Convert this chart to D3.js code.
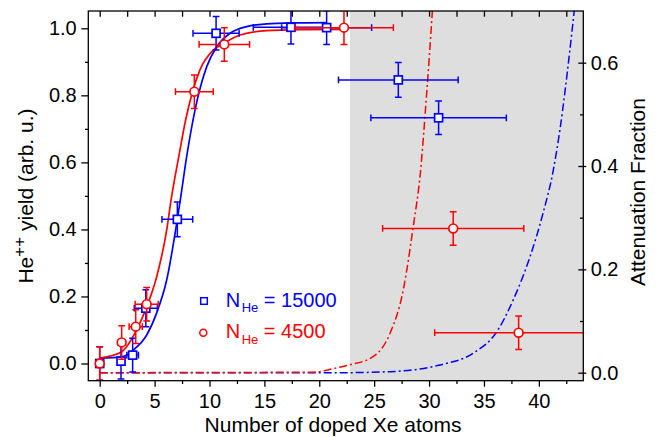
<!DOCTYPE html>
<html>
<head>
<meta charset="utf-8">
<script src="https://cdn.jsdelivr.net/npm/d3@7"></script>
<style>
  body { margin: 0; background: #fff; }
  svg { display: block; }
</style>
</head>
<body>
<script>
// tick values
var xMajor = [0, 5, 10, 15, 20, 25, 30, 35, 40];
var xMinor = [2.5, 7.5, 12.5, 17.5, 22.5, 27.5, 32.5, 37.5, 42.5];
var yLeftMajor = [0, 0.2, 0.4, 0.6, 0.8, 1.0];
var yLeftMinor = [0.1, 0.3, 0.5, 0.7, 0.9];
var yRightMajor = [0, 0.2, 0.4, 0.6];
var yRightMinor = [0.1, 0.3, 0.5];

// N_He = 15000 (blue squares)
var blueX    = [0, 1.94, 3.0, 4.2, 7.07, 10.6, 17.42, 20.67, 27.2, 30.87];
var blueY    = [0, 0.007, 0.025, 0.165, 0.43, 0.985, 1.003, 1.002, 0.846, 0.733];
var blueXErr = [0, 0, 0.53, 1.05, 1.4, 2.1, 3.43, 4.1, 5.45, 6.17];
var blueYErr = [0.05, 0.053, 0.05, 0.055, 0.052, 0.05, 0.05, 0.05, 0.052, 0.05];

// N_He = 4500 (red circles)
var redX    = [0, 2.0, 3.28, 4.28, 8.62, 11.35, 22.25, 32.2, 38.16];
var redY    = [0, 0.063, 0.11, 0.177, 0.811, 0.952, 1.002, 0.403, 0.092];
var redXErr = [0, 0.3, 0.6, 1.05, 1.72, 2.3, 4.5, 6.43, 7.65];
var redYErr = [0.05, 0.05, 0.05, 0.05, 0.05, 0.05, 0.05, 0.05, 0.05];

// fitted yield curves (left axis)
var blueFitX = [0, 2, 3.06, 4.28, 5.19, 6.1, 7.07, 7.35, 7.92, 8.68, 9.74, 10.66, 11.87, 13.39, 15.2, 17.5, 20.6];
var blueFitY = [0.016, 0.02, 0.04, 0.085, 0.151, 0.249, 0.43, 0.49, 0.617, 0.756, 0.885, 0.945, 0.985, 1.005, 1.013, 1.016, 1.017];
var redFitX = [0, 2, 3.28, 4.28, 5.19, 6.1, 6.5, 7.2, 7.85, 8.45, 9.13, 10.35, 11.35, 12.78, 15.2, 18.5, 22.4];
var redFitY = [0.016, 0.035, 0.095, 0.169, 0.259, 0.398, 0.488, 0.617, 0.73, 0.81, 0.876, 0.935, 0.956, 0.98, 0.993, 0.996, 0.997];

// attenuation fraction curves (right axis)
var redAttX = [0, 19.4, 21.3, 22.5, 24.9, 26.44, 27.65, 28.56, 29.2, 29.78, 30.3, 30.5];
var redAttY = [0, 0.001, 0.008, 0.014, 0.031, 0.076, 0.16, 0.283, 0.385, 0.54, 0.70, 0.77];
var blueAttX = [0, 21.9, 26.44, 31.0, 34.0, 36.16, 37.67, 39.19, 40.4, 41.3, 41.92, 42.83, 43.22, 43.5];
var blueAttY = [0, 0, 0.002, 0.015, 0.0375, 0.079, 0.141, 0.224, 0.31, 0.39, 0.47, 0.625, 0.70, 0.76];

var shadeStart = 22.8;

var width = 659, height = 437;
var padL = 88.3, padR = 583.3, padT = 11, padB = 380.7;
var font = "'Liberation Sans', Arial, Helvetica, sans-serif";
var BLUE = "#0000ff", RED = "#ff0000";

var svg = d3.select("body").append("svg")
    .attr("width", width)
    .attr("height", height);

var x = d3.scaleLinear().domain([-1.04, 44.05]).range([padL, padR]);
var yL = d3.scaleLinear().domain([-0.0513, 1.0516]).range([padB, padT]);
var yR = d3.scaleLinear().domain([-0.0155, 0.700]).range([padB, padT]);

svg.append("clipPath").attr("id", "plotclip")
  .append("rect")
    .attr("x", padL).attr("y", padT)
    .attr("width", padR - padL).attr("height", padB - padT);

var plot = svg.append("g").attr("clip-path", "url(#plotclip)");

// grey region
plot.append("rect")
    .attr("x", x(shadeStart)).attr("y", padT)
    .attr("width", padR - x(shadeStart)).attr("height", padB - padT)
    .attr("fill", "#dedede");

function zip(xs, ys) {
    return xs.map(function(v, i) { return [v, ys[i]]; });
}

var lineL = d3.line().x(function(d) { return x(d[0]); }).y(function(d) { return yL(d[1]); }).curve(d3.curveMonotoneX);
var lineR = d3.line().x(function(d) { return x(d[0]); }).y(function(d) { return yR(d[1]); }).curve(d3.curveMonotoneX);

// dash-dot attenuation curves
plot.append("path").attr("d", lineR(zip(blueAttX, blueAttY)))
    .attr("fill", "none").attr("stroke", BLUE).attr("stroke-width", 1.5)
    .attr("stroke-dasharray", "8,3,2,3");
plot.append("path").attr("d", lineR(zip(redAttX, redAttY)))
    .attr("fill", "none").attr("stroke", RED).attr("stroke-width", 1.5)
    .attr("stroke-dasharray", "8,3,2,3");

// fit curves
plot.append("path").attr("d", lineL(zip(blueFitX, blueFitY)))
    .attr("fill", "none").attr("stroke", BLUE).attr("stroke-width", 1.7);
plot.append("path").attr("d", lineL(zip(redFitX, redFitY)))
    .attr("fill", "none").attr("stroke", RED).attr("stroke-width", 1.7);

function errorBars(xs, ys, xe, ye, color) {
    var g = plot.append("g").attr("stroke", color).attr("stroke-width", 1.5).attr("fill", "none");
    var cap = 3.4;
    xs.forEach(function(v, i) {
        var cx = x(v), cy = yL(ys[i]);
        if (xe[i] > 0) {
            var x1 = x(v - xe[i]), x2 = x(v + xe[i]);
            g.append("line").attr("x1", x1).attr("x2", x2).attr("y1", cy).attr("y2", cy);
            g.append("line").attr("x1", x1).attr("x2", x1).attr("y1", cy - cap).attr("y2", cy + cap);
            g.append("line").attr("x1", x2).attr("x2", x2).attr("y1", cy - cap).attr("y2", cy + cap);
        }
        if (ye[i] > 0) {
            var y1 = yL(ys[i] - ye[i]), y2 = yL(ys[i] + ye[i]);
            g.append("line").attr("x1", cx).attr("x2", cx).attr("y1", y1).attr("y2", y2);
            g.append("line").attr("x1", cx - cap).attr("x2", cx + cap).attr("y1", y1).attr("y2", y1);
            g.append("line").attr("x1", cx - cap).attr("x2", cx + cap).attr("y1", y2).attr("y2", y2);
        }
    });
}

errorBars(blueX, blueY, blueXErr, blueYErr, BLUE);
plot.append("g").selectAll("rect").data(zip(blueX, blueY)).enter().append("rect")
    .attr("x", function(d) { return x(d[0]) - 4; })
    .attr("y", function(d) { return yL(d[1]) - 4; })
    .attr("width", 8).attr("height", 8)
    .attr("fill", "#fff").attr("stroke", BLUE).attr("stroke-width", 1.7);

errorBars(redX, redY, redXErr, redYErr, RED);
plot.append("g").selectAll("circle").data(zip(redX, redY)).enter().append("circle")
    .attr("cx", function(d) { return x(d[0]); })
    .attr("cy", function(d) { return yL(d[1]); })
    .attr("r", 4.4)
    .attr("fill", "#fff").attr("stroke", RED).attr("stroke-width", 1.7);

// axes
function styleAxis(g) {
    g.select(".domain").remove();
    g.attr("font-size", 20).attr("font-family", font);
    g.selectAll("line").attr("stroke", "#000").attr("stroke-width", 1.3);
    g.selectAll("text").attr("fill", "#000");
}

svg.append("g").attr("transform", "translate(0," + padB + ")")
    .call(d3.axisBottom(x).tickValues(xMajor).tickSize(6).tickPadding(7.4).tickFormat(d3.format("d")))
    .call(styleAxis);
svg.append("g").attr("transform", "translate(0," + padB + ")")
    .call(d3.axisBottom(x).tickValues(xMinor).tickSize(3.3).tickFormat(""))
    .call(styleAxis);
svg.append("g").attr("transform", "translate(0," + padT + ")")
    .call(d3.axisTop(x).tickValues(xMajor.concat(xMinor)).tickSize(-5.7).tickFormat(""))
    .call(styleAxis);

svg.append("g").attr("transform", "translate(" + padL + ",0)")
    .call(d3.axisLeft(yL).tickValues(yLeftMajor).tickSize(7).tickPadding(4.6).tickFormat(d3.format(".1f")))
    .call(styleAxis);
svg.append("g").attr("transform", "translate(" + padL + ",0)")
    .call(d3.axisLeft(yL).tickValues(yLeftMinor).tickSize(3.3).tickFormat(""))
    .call(styleAxis);

svg.append("g").attr("transform", "translate(" + padR + ",0)")
    .call(d3.axisRight(yR).tickValues(yRightMajor).tickSize(3).tickPadding(4.4).tickFormat(d3.format(".1f")))
    .call(styleAxis);
svg.append("g").attr("transform", "translate(" + padR + ",0)")
    .call(d3.axisRight(yR).tickValues(yRightMajor).tickSize(-5).tickFormat(""))
    .call(styleAxis);
svg.append("g").attr("transform", "translate(" + padR + ",0)")
    .call(d3.axisRight(yR).tickValues(yRightMinor).tickSize(-3.3).tickFormat(""))
    .call(styleAxis);

// frame
svg.append("rect")
    .attr("x", padL).attr("y", padT)
    .attr("width", padR - padL).attr("height", padB - padT)
    .attr("fill", "none").attr("stroke", "#000").attr("stroke-width", 1.3);

// axis titles
svg.append("text")
    .attr("x", 333).attr("y", 431.7)
    .attr("text-anchor", "middle")
    .attr("font-family", font).attr("font-size", 21)
    .text("Number of doped Xe atoms");

var yTitle = svg.append("text")
    .attr("transform", "translate(33.3,196) rotate(-90)")
    .attr("text-anchor", "middle")
    .attr("font-family", font).attr("font-size", 21);
yTitle.append("tspan").text("He");
yTitle.append("tspan").attr("font-size", 17).attr("dy", -8).text("++");
yTitle.append("tspan").attr("dy", 8).text(" yield (arb. u.)");

svg.append("text")
    .attr("transform", "translate(645,192) rotate(-90)")
    .attr("text-anchor", "middle")
    .attr("font-family", font).attr("font-size", 21)
    .text("Attenuation Fraction");

// legend
var legend = svg.append("g");
legend.append("rect")
    .attr("x", 204 - 3.3).attr("y", 301 - 3.3).attr("width", 6.6).attr("height", 6.6)
    .attr("fill", "#fff").attr("stroke", BLUE).attr("stroke-width", 1.5);
legend.append("circle")
    .attr("cx", 203.3).attr("cy", 332.7).attr("r", 3.5)
    .attr("fill", "#fff").attr("stroke", RED).attr("stroke-width", 1.5);

function legendText(yb, color, label) {
    var t = legend.append("text")
        .attr("x", 225.7).attr("y", yb)
        .attr("fill", color)
        .attr("font-family", font).attr("font-size", 20);
    t.append("tspan").text("N");
    t.append("tspan").attr("font-size", 13).attr("dx", 1.5).attr("dy", 5.6).text("He");
    t.append("tspan").attr("dy", -5.6).text(" = " + label);
}
legendText(306.7, BLUE, "15000");
legendText(338.3, RED, "4500");
</script>
</body>
</html>
